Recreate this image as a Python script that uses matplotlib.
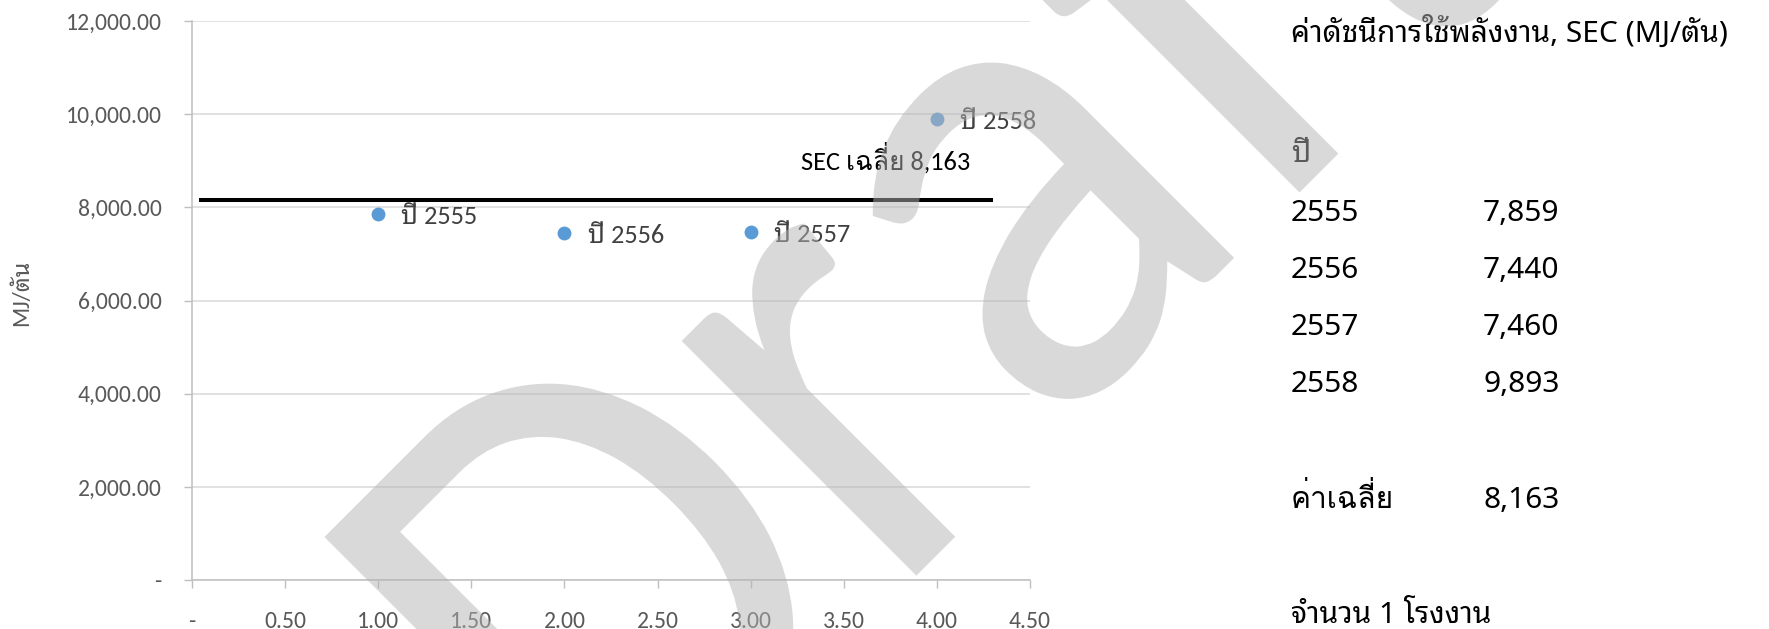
import matplotlib
matplotlib.use("Agg")
import matplotlib.pyplot as plt
from matplotlib.ticker import FixedLocator, FuncFormatter
from matplotlib.textpath import TextPath
from matplotlib.patches import PathPatch
from matplotlib.font_manager import FontProperties
from matplotlib.transforms import Affine2D

# SEC per year (Buddhist era), MJ per ton
years = ["2555", "2556", "2557", "2558"]
x_pos = [1, 2, 3, 4]
sec = [7859, 7440, 7460, 9893]
sec_mean = 8163
mean_span = [0.04, 4.30]
n_plants = 1

x_ticks = [0, 0.5, 1.0, 1.5, 2.0, 2.5, 3.0, 3.5, 4.0, 4.5]
y_ticks = [0, 2000, 4000, 6000, 8000, 10000, 12000]

CHART_FONT = ["Carlito", "Noto Sans Thai Looped", "DejaVu Sans"]
SIDE_FONT = ["Noto Sans", "Noto Sans Thai Looped", "DejaVu Sans"]
# stacked tone mark over sara ii needs a font whose default mark sits high
CHART_FONT_T = ["Carlito", "Loma", "DejaVu Sans"]
SIDE_FONT_T = ["Noto Sans", "Loma", "DejaVu Sans"]

W, H = 1769, 629
fig = plt.figure(figsize=(W / 100, H / 100), dpi=100)
ax = fig.add_axes([192 / W, 49 / H, 838 / W, 559 / H])

grid_c = "#d9d9d9"
axis_c = "#bfbfbf"
tick_c = "#595959"

ax.set_xlim(0, 4.5)
ax.set_ylim(0, 12000)
ax.xaxis.set_major_locator(FixedLocator(x_ticks))
ax.yaxis.set_major_locator(FixedLocator(y_ticks))
ax.xaxis.set_major_formatter(FuncFormatter(lambda v, _: "-" if v == 0 else f"{v:.2f}"))
ax.yaxis.set_major_formatter(FuncFormatter(lambda v, _: "-" if v == 0 else f"{v:,.2f}"))

ax.grid(axis="y", color=grid_c, lw=1.1, zorder=0)
ax.set_axisbelow(True)
for side in ("top", "right"):
    ax.spines[side].set_visible(False)
for side in ("left", "bottom"):
    ax.spines[side].set_color(axis_c)
    ax.spines[side].set_linewidth(1.1)
ax.tick_params(axis="both", direction="out", length=5.5, width=1.0, color=axis_c,
               labelcolor=tick_c, labelsize=17, pad=16.5)
for lab in ax.get_xticklabels() + ax.get_yticklabels():
    lab.set_family(CHART_FONT)

# average line and its label
ax.plot(mean_span, [sec_mean, sec_mean], color="black", lw=2.9, solid_capstyle="butt", zorder=3)
ax.text(3.727, sec_mean + 638, f"SEC เฉลี่ย {sec_mean:,}", ha="center", va="baseline",
        fontsize=19, color="black", family=CHART_FONT_T, zorder=4)

# yearly points with labels
ax.plot(x_pos, sec, ls="none", marker="o", ms=10, color="#5b9bd5", mec="none", zorder=4)
for x, v, yr in zip(x_pos, sec, years):
    ax.annotate(f"ปี {yr}", (x, v), xytext=(16.6, -7.2), textcoords="offset points",
                ha="left", va="baseline", fontsize=19, color="#404040",
                family=CHART_FONT, zorder=4)

fig.text(22 / W, 1 - 293 / H, "MJ/ตัน", rotation=90, ha="center", va="center",
         fontsize=17, color=tick_c, family=CHART_FONT)

# summary table on the right
col1, col2 = 1291 / W, 1483 / W
side_kw = dict(fontsize=21.5, color="black", va="baseline", zorder=2)
fig.text(col1, 1 - 42 / H, "ค่าดัชนีการใช้พลังงาน, SEC (MJ/ตัน)", family=SIDE_FONT, **side_kw)
fig.text(col1, 1 - 162 / H, "ปี", family=SIDE_FONT, **side_kw)
row_base = [221, 278, 335, 392]
for yr, v, yb in zip(years, sec, row_base):
    fig.text(col1, 1 - yb / H, yr, family=SIDE_FONT, **side_kw)
    fig.text(col2, 1 - yb / H, f"{v:,}", family=SIDE_FONT, **side_kw)
fig.text(col1, 1 - 508 / H, "ค่าเฉลี่ย", family=SIDE_FONT_T, **side_kw)
fig.text(col2, 1 - 508 / H, f"{sec_mean:,}", family=SIDE_FONT, **side_kw)
fig.text(col1, 1 - 623 / H, f"จำนวน {n_plants} โรงงาน", family=SIDE_FONT, **side_kw)

# diagonal watermark over everything, slightly stretched vertically
wm_path = TextPath((0, 0), "Draft", size=1, prop=FontProperties(family=CHART_FONT))
wm_tf = Affine2D().scale(640, 695).rotate_deg(45).translate(609, H - 883)
fig.add_artist(PathPatch(wm_path, transform=wm_tf, facecolor="#b4b4b4",
                         edgecolor="none", alpha=0.5, zorder=10))

fig.savefig("out.png", dpi=100)
